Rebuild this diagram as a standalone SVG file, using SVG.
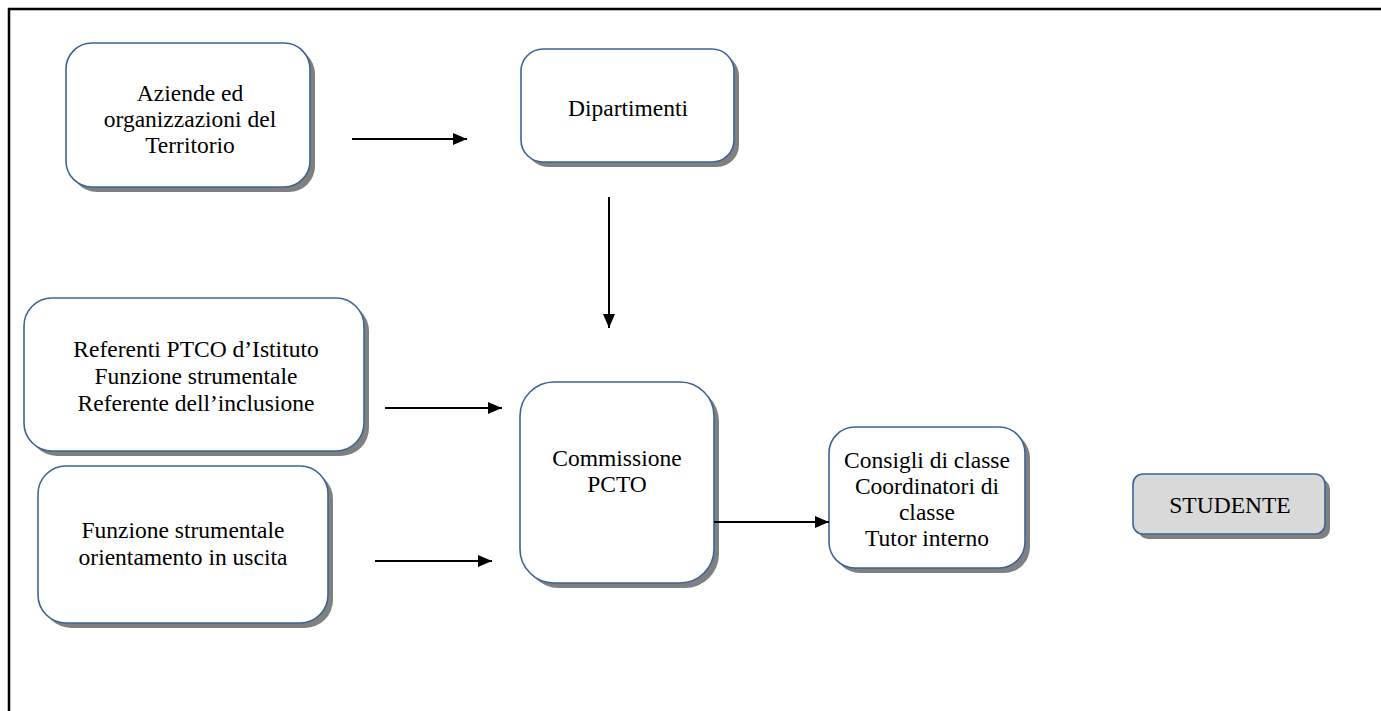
<svg xmlns="http://www.w3.org/2000/svg" width="1381" height="711" viewBox="0 0 1381 711">
<style>
.box{fill:#ffffff;stroke:#3c6496;stroke-width:1.6}
.sh{fill:#808080}
text{font-family:"Liberation Serif","Times New Roman",serif;font-size:23.5px;fill:#000;text-anchor:middle}
.conn line{stroke:#000;stroke-width:2}
</style>
<defs>
<marker id="ah" viewBox="0 0 14 12" refX="14" refY="6" markerWidth="14" markerHeight="12" markerUnits="userSpaceOnUse" orient="auto">
<path d="M0,0 L14,6 L0,12 z" fill="#000"/>
</marker>
</defs>
<rect width="1381" height="711" fill="#fff"/>
<path d="M9,711 V9 H1381" fill="none" stroke="#000" stroke-width="2.5"/>

<g id="aziende">
<rect class="sh" x="71" y="48" width="244" height="144" rx="26"/>
<rect class="box" x="66" y="43" width="244" height="144" rx="26"/>
<text x="190" y="101">Aziende ed</text>
<text x="190" y="127">organizzazioni del</text>
<text x="190" y="153">Territorio</text>
</g>

<g id="dipartimenti">
<rect class="sh" x="526" y="54" width="213" height="113" rx="22"/>
<rect class="box" x="521" y="49" width="213" height="113" rx="22"/>
<text x="628" y="116">Dipartimenti</text>
</g>

<g id="referenti">
<rect class="sh" x="29" y="303" width="340" height="153" rx="28"/>
<rect class="box" x="24" y="298" width="340" height="153" rx="28"/>
<text x="196" y="357">Referenti PTCO d’Istituto</text>
<text x="196" y="384">Funzione strumentale</text>
<text x="196" y="411">Referente dell’inclusione</text>
</g>

<g id="orientamento">
<rect class="sh" x="43" y="471" width="290" height="157" rx="28"/>
<rect class="box" x="38" y="466" width="290" height="157" rx="28"/>
<text x="183" y="538">Funzione strumentale</text>
<text x="183" y="565">orientamento in uscita</text>
</g>

<g id="commissione">
<rect class="sh" x="525" y="387" width="194" height="201" rx="34"/>
<rect class="box" x="520" y="382" width="194" height="201" rx="34"/>
<text x="617" y="466">Commissione</text>
<text x="617" y="492">PCTO</text>
</g>

<g id="consigli">
<rect class="sh" x="834" y="432" width="196" height="141" rx="26"/>
<rect class="box" x="829" y="427" width="196" height="141" rx="26"/>
<text x="927" y="468">Consigli di classe</text>
<text x="927" y="494">Coordinatori di</text>
<text x="927" y="520">classe</text>
<text x="927" y="546">Tutor interno</text>
</g>

<g id="studente">
<rect class="sh" x="1138" y="479" width="192" height="60" rx="10"/>
<rect class="box" x="1133" y="474" width="192" height="60" rx="10" style="fill:#d9d9d9"/>
<text x="1230" y="513">STUDENTE</text>
</g>

<g id="connectors" class="conn">
<line x1="352" y1="139" x2="467" y2="139" marker-end="url(#ah)"/>
<line x1="609" y1="197" x2="609" y2="328" marker-end="url(#ah)"/>
<line x1="385" y1="408" x2="502" y2="408" marker-end="url(#ah)"/>
<line x1="375" y1="561" x2="492" y2="561" marker-end="url(#ah)"/>
<line x1="714" y1="522" x2="829" y2="522" marker-end="url(#ah)"/>
</g>
</svg>
